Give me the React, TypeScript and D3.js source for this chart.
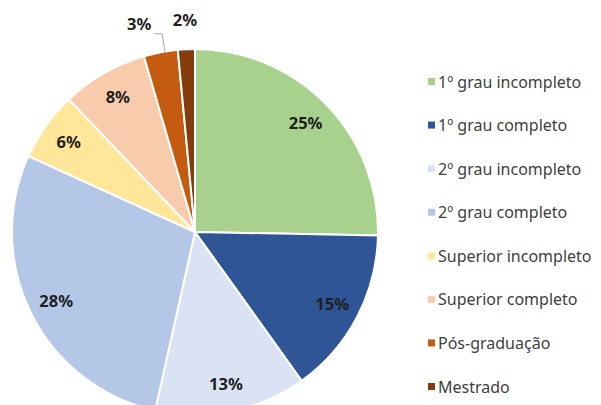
import React from "react";
import * as d3 from "d3";

const categories = [
  "1º grau incompleto",
  "1º grau completo",
  "2º grau incompleto",
  "2º grau completo",
  "Superior incompleto",
  "Superior completo",
  "Pós-graduação",
  "Mestrado",
];
const values = [25.3, 14.8, 13.4, 28.3, 6.1, 7.6, 3.0, 1.5];
const colors = ["#a9d18e", "#2f5597", "#dae3f3", "#b4c7e7", "#ffe699", "#f8cbad", "#c55a11", "#843c0c"];
// slices whose labels sit outside the pie
const outside = [false, false, false, false, false, false, true, true];

const W = 601;
const H = 405;
const cx = 195;
const cy = 232;
const R = 183;

const App: React.FC = () => {
  const pie = d3.pie<number>().sort(null).value((d) => d);
  const arcs = pie(values);
  const arc = d3.arc<d3.PieArcDatum<number>>().innerRadius(0).outerRadius(R);
  const labelArc = d3.arc<d3.PieArcDatum<number>>().innerRadius(155).outerRadius(155);
  const outerArc = d3.arc<d3.PieArcDatum<number>>().innerRadius(R + 29).outerRadius(R + 29);
  const edgeArc = d3.arc<d3.PieArcDatum<number>>().innerRadius(R - 2).outerRadius(R - 2);

  const legendY = d3.scalePoint<string>().domain(categories).range([82, 387]);

  return (
    <svg width={W} height={H} style={{ position: "absolute", left: 0, top: 0, background: "#fff" }}>
      <g transform={`translate(${cx},${cy})`}>
        {arcs.map((a, i) => (
          <path key={i} d={arc(a) || ""} fill={colors[i]} stroke="#fff" strokeWidth={2} strokeLinejoin="round" />
        ))}
        {arcs.map((a, i) => {
          const pct = `${Math.round(values[i])}%`;
          if (!outside[i]) {
            const [x, y] = labelArc.centroid(a);
            return (
              <text key={i} x={x} y={y} dy="0.35em" textAnchor="middle"
                fontFamily="'Noto Sans', sans-serif" fontWeight="bold" fontSize={16.5} fill="#1f1f1f">
                {pct}
              </text>
            );
          }
          const [ox, oy] = outerArc.centroid(a);
          const [ex, ey] = edgeArc.centroid(a);
          const isFirst = i === 6;
          const tx = isFirst ? ox - 4 : ox;
          return (
            <g key={i}>
              {isFirst && (
                <polyline
                  points={`${tx + 3},${oy + 10} ${ex + 1},${oy + 10} ${ex + 4},${ey - 2}`}
                  fill="none" stroke="#a6a6a6" strokeWidth={1}
                />
              )}
              <text x={tx} y={oy} dy="0.35em" textAnchor={isFirst ? "end" : "middle"}
                fontFamily="'Noto Sans', sans-serif" fontWeight="bold" fontSize={16.5} fill="#1f1f1f">
                {pct}
              </text>
            </g>
          );
        })}
      </g>
      <g>
        {categories.map((c, i) => (
          <g key={c} transform={`translate(428,${legendY(c)})`}>
            <rect x={0} y={-4} width={7} height={7} fill={colors[i]} />
            <text x={10} y={0} dy="0.35em" fontFamily="'Noto Sans', sans-serif" fontSize={16} fill="#404040">
              {c}
            </text>
          </g>
        ))}
      </g>
    </svg>
  );
};

export default App;
